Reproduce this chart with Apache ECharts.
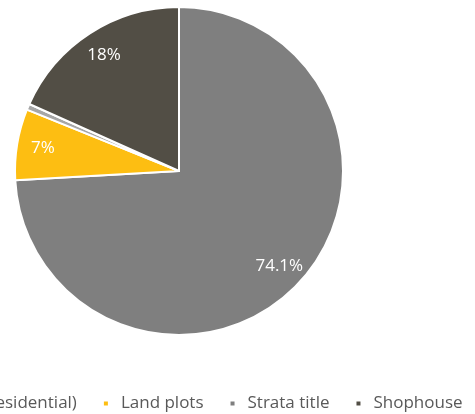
<!DOCTYPE html>
<html>
<head>
<meta charset="utf-8">
<script src="https://cdn.jsdelivr.net/npm/echarts@6/dist/echarts.min.js"></script>
<style>html,body{margin:0;padding:0;background:#fff;}#c{width:475px;height:414px;}</style>
</head>
<body>
<div id="c"></div>
<script>
// Data (clockwise order from 12 o'clock)
const sliceNames = ['Strata title', 'Land plots', 'Landed (residential)', 'Shophouse'];
const sliceValues = [74.1, 7.0, 0.6, 18.3];
const sliceLabels = ['74.1%', '7%', '', '18%'];
const sliceColors = ['#7f7f7f', '#fdbe12', '#a6a6a6', '#524e45'];
const legendOrder = ['Landed (residential)', 'Land plots', 'Strata title', 'Shophouse'];

const chart = echarts.init(document.getElementById('c'), null, {renderer: 'canvas'});
const mainData = sliceNames.map((n, i) => ({name: n, value: sliceValues[i], itemStyle: {color: sliceColors[i]}}));
const labelData = sliceNames.map((n, i) => ({name: n, value: sliceValues[i], label: {show: sliceLabels[i] !== ''}}));
const font = "'Open Sans', 'DejaVu Sans', sans-serif";
chart.setOption({
  animation: false,
  backgroundColor: '#ffffff',
  legend: {
    data: legendOrder,
    left: -104,
    width: 2000,
    top: 390,
    icon: 'rect',
    itemWidth: 6,
    itemHeight: 6,
    itemGap: 25,
    textStyle: {color: '#595959', fontFamily: font, fontSize: 17, padding: [0, 0, 0, 7]}
  },
  series: [
    {
      type: 'pie',
      center: [179, 171],
      radius: [0, 164],
      startAngle: 90,
      clockwise: true,
      silent: true,
      label: {show: false},
      labelLine: {show: false},
      itemStyle: {borderColor: '#ffffff', borderWidth: 2},
      data: mainData
    },
    {
      type: 'pie',
      center: [179, 171],
      radius: [0, 270],
      startAngle: 90,
      clockwise: true,
      silent: true,
      itemStyle: {color: 'rgba(0,0,0,0)', borderWidth: 0},
      label: {
        show: true, position: 'inside', color: '#ffffff', fontFamily: font, fontSize: 17,
        formatter: p => sliceLabels[p.dataIndex]
      },
      labelLine: {show: false},
      data: labelData
    }
  ]
});
</script>
</body>
</html>
